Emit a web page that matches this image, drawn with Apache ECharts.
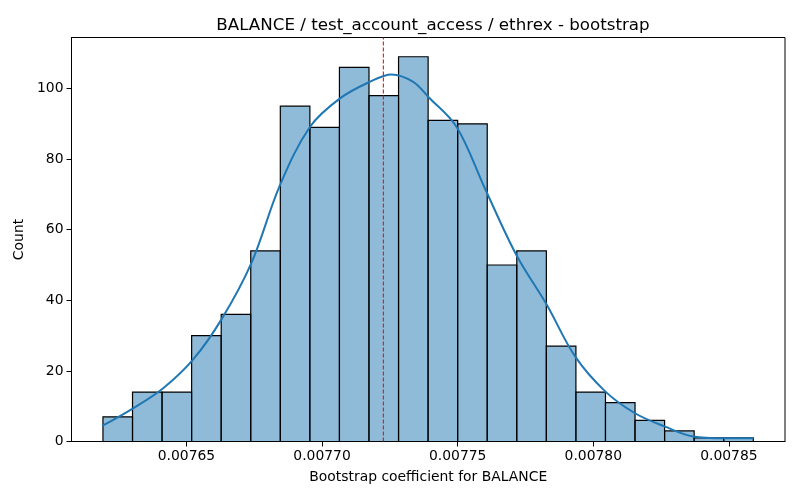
<!DOCTYPE html>
<html>
<head>
<meta charset="utf-8">
<script src="https://cdn.jsdelivr.net/npm/echarts@6/dist/echarts.min.js"></script>
<style>
  html, body { margin: 0; padding: 0; background: #fff; }
  #chart { width: 800px; height: 500px; }
</style>
</head>
<body>
<div id="chart"></div>
<script>
// histogram bins
var binStart = 0.0076192;
var binWidth = 0.0000109;
var counts = [7, 14, 14, 30, 36, 54, 95, 89, 106, 98, 109, 91, 90, 50, 54, 27, 14, 11, 6, 3, 1, 1];

// kde curve
var kdeX = [0.0076189, 0.0076303, 0.0076414, 0.0076524, 0.0076629, 0.0076740, 0.0076844,
    0.0076955, 0.0077066, 0.0077176, 0.0077256, 0.0077336, 0.0077392, 0.0077496, 0.0077601,
    0.0077718, 0.0077828, 0.0077933, 0.0078044, 0.0078154, 0.0078265, 0.0078369, 0.0078480, 0.0078591];
var kdeY = [4.4, 9.4, 15.1, 23.2, 34.6, 50.7, 72.5,
    89.1, 97.2, 101.9, 104.0, 101.9, 97.6, 89.1, 71.6,
    52.6, 38.8, 24.1, 14.2, 8.0, 4.2, 1.4, 0.9, 0.9];

var meanLine = 0.0077226;
var yMax = 114.45;

var xTicks = [0.00765, 0.00770, 0.00775, 0.00780, 0.00785];
var yTicks = [0, 20, 40, 60, 80, 100];

(function(){
    var myChart = echarts.init(document.getElementById('chart'));

    var bars = counts.map(function(c, i) {
        return [binStart + i * binWidth, binStart + (i + 1) * binWidth, c];
    });
    var kde = kdeX.map(function(x, i) { return [x, kdeY[i]]; });

    var font = 'DejaVu Sans';
    var option = {
        animation: false,
        title: {
            text: 'BALANCE / test_account_access / ethrex - bootstrap',
            left: 428,
            textAlign: 'center',
            top: 12,
            textStyle: { fontFamily: font, fontSize: 16.7, fontWeight: 'normal', color: '#000' }
        },
        grid: { left: 71.5, right: 15, top: 37.5, bottom: 58.5, show: true, borderColor: '#000', borderWidth: 1 },
        xAxis: {
            type: 'value',
            min: 0.0076076,
            max: 0.0078707,
            name: 'Bootstrap coefficient for BALANCE',
            nameLocation: 'middle',
            nameGap: 29,
            nameTextStyle: { fontFamily: font, fontSize: 13.9, color: '#000' },
            axisLine: { show: true, onZero: false, lineStyle: { color: '#000', width: 1 } },
            axisTick: { show: true, length: 5, lineStyle: { color: '#000' }, customValues: xTicks },
            axisLabel: {
                customValues: xTicks,
                fontFamily: font, fontSize: 13.9, color: '#000', margin: 8,
                formatter: function(v) { return v.toFixed(5); }
            },
            splitLine: { show: false }
        },
        yAxis: {
            type: 'value',
            min: 0,
            max: yMax,
            name: 'Count',
            nameLocation: 'middle',
            nameGap: 45,
            nameTextStyle: { fontFamily: font, fontSize: 13.9, color: '#000' },
            axisLine: { show: true, lineStyle: { color: '#000', width: 1 } },
            axisTick: { show: true, length: 5, lineStyle: { color: '#000' }, customValues: yTicks },
            axisLabel: { customValues: yTicks, fontFamily: font, fontSize: 13.9, color: '#000', margin: 8 },
            splitLine: { show: false }
        },
        series: [
            {
                type: 'custom',
                data: bars,
                z: 2,
                renderItem: function(params, api) {
                    var p0 = api.coord([api.value(0), 0]);
                    var p1 = api.coord([api.value(1), api.value(2)]);
                    return {
                        type: 'rect',
                        shape: { x: p0[0], y: p1[1], width: p1[0] - p0[0], height: p0[1] - p1[1] },
                        style: { fill: 'rgba(31,119,180,0.5)', stroke: '#000', lineWidth: 1.2 }
                    };
                }
            },
            {
                type: 'line',
                data: kde,
                smooth: 0.35,
                showSymbol: false,
                z: 3,
                lineStyle: { color: '#1f77b4', width: 2 }
            },
            {
                // dashed vertical line at the point estimate
                type: 'line',
                data: [[meanLine, 0], [meanLine, yMax]],
                showSymbol: false,
                z: 4,
                lineStyle: { color: '#ee1111', type: [4, 2], width: 1.1 }
            }
        ]
    };
    myChart.setOption(option);
})();
</script>
</body>
</html>
